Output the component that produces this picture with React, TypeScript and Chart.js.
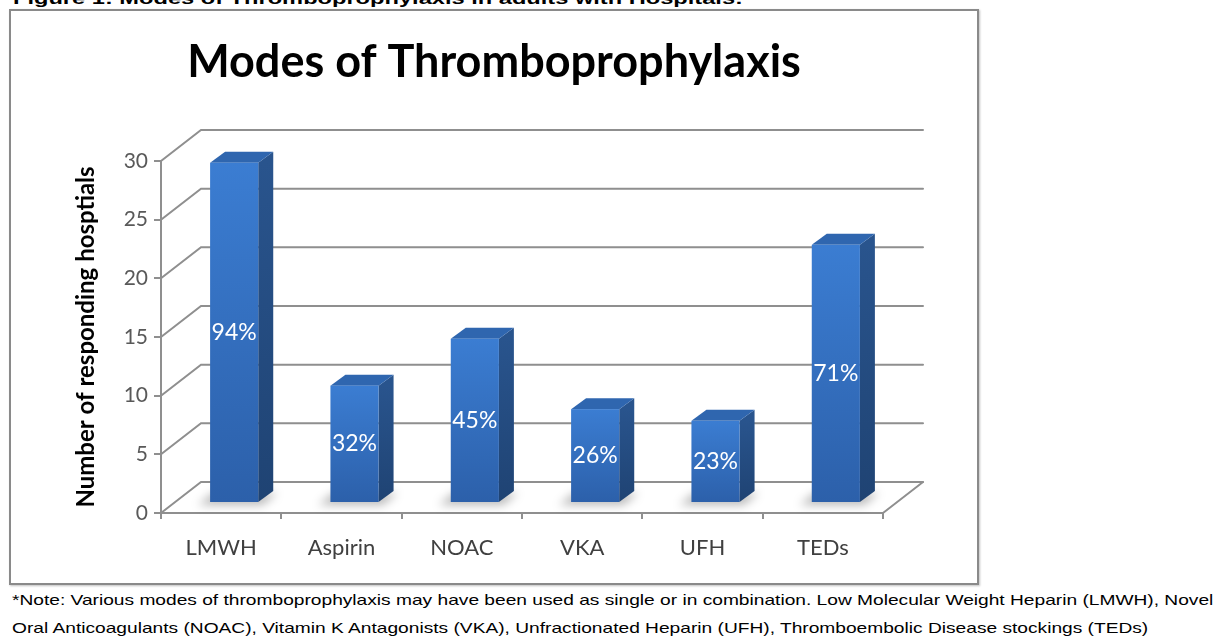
import React, { useEffect, useRef } from "react";
import { Chart, registerables } from "chart.js";

Chart.register(...registerables);

const categories = ["LMWH", "Aspirin", "NOAC", "VKA", "UFH", "TEDs"];
const hospitals = [29, 10, 14, 8, 7, 22];
const percentLabels = ["94%", "32%", "45%", "26%", "23%", "71%"];
const yMin = 0;
const yMax = 30;
const yStep = 5;

const chartTitle = "Modes of Thromboprophylaxis";
const yAxisTitle = "Number of responding hosptials";
const figureCaption = "Figure 1: Modes of Thromboprophylaxis in adults with Hospitals:";
const noteLine1 =
  "*Note: Various modes of thromboprophylaxis may have been used as single or in combination. Low Molecular Weight Heparin (LMWH), Novel";
const noteLine2 =
  "Oral Anticoagulants (NOAC), Vitamin K Antagonists (VKA), Unfractionated Heparin (UFH), Thromboembolic Disease stockings (TEDs)";

// 3D geometry (pixels)
const WALL_DX = 40;
const WALL_DY = -31;
const BAR_DX = 13;
const BAR_DY = -10;
const SIDE_DX = 15;
const SIDE_DY = -11;
const GRID = "#8f8f8f";
const FONT = "Lato, 'Open Sans', 'DejaVu Sans', sans-serif";

const threeD = {
  id: "threeD",
  beforeDatasetsDraw(chart: any) {
    const { ctx, chartArea } = chart;
    const y = chart.scales.y;
    const { left, right, bottom } = chartArea;
    ctx.save();
    ctx.strokeStyle = GRID;
    ctx.lineWidth = 2;
    ctx.lineCap = "round";
    for (let v = yMin; v <= yMax; v += yStep) {
      const py = y.getPixelForValue(v);
      ctx.beginPath();
      ctx.moveTo(left, py);
      ctx.lineTo(left + WALL_DX, py + WALL_DY);
      ctx.lineTo(right + WALL_DX, py + WALL_DY);
      ctx.stroke();
    }
    ctx.beginPath();
    ctx.moveTo(right, bottom);
    ctx.lineTo(right + WALL_DX, bottom + WALL_DY);
    ctx.stroke();
    ctx.restore();
  },
  afterDatasetsDraw(chart: any) {
    const { ctx } = chart;
    const meta = chart.getDatasetMeta(0);
    meta.data.forEach((el: any, i: number) => {
      const p = el.getProps(["x", "y", "base", "width"], true);
      const l = p.x - p.width / 2 + BAR_DX;
      const r = p.x + p.width / 2 + BAR_DX;
      const t = p.y + BAR_DY;
      const b = p.base + BAR_DY;
      ctx.save();
      // floor shadow
      ctx.filter = "blur(5px)";
      ctx.fillStyle = "rgba(0,0,0,0.28)";
      ctx.beginPath();
      ctx.moveTo(l - 12, b + 3);
      ctx.lineTo(r + 4, b + 3);
      ctx.lineTo(r + SIDE_DX + 4, b + SIDE_DY + 2);
      ctx.lineTo(l + SIDE_DX - 12, b + SIDE_DY + 2);
      ctx.closePath();
      ctx.fill();
      ctx.filter = "none";
      // side face
      const sg = ctx.createLinearGradient(0, t, 0, b);
      sg.addColorStop(0, "#29548d");
      sg.addColorStop(1, "#1f4373");
      ctx.fillStyle = sg;
      ctx.beginPath();
      ctx.moveTo(r, t);
      ctx.lineTo(r + SIDE_DX, t + SIDE_DY);
      ctx.lineTo(r + SIDE_DX, b + SIDE_DY);
      ctx.lineTo(r, b);
      ctx.closePath();
      ctx.fill();
      // top face
      ctx.fillStyle = "#2f66af";
      ctx.beginPath();
      ctx.moveTo(l, t);
      ctx.lineTo(l + SIDE_DX, t + SIDE_DY);
      ctx.lineTo(r + SIDE_DX, t + SIDE_DY);
      ctx.lineTo(r, t);
      ctx.closePath();
      ctx.fill();
      // front face
      const fg = ctx.createLinearGradient(0, t, 0, b);
      fg.addColorStop(0, "#3b7dd2");
      fg.addColorStop(1, "#2c60aa");
      ctx.fillStyle = fg;
      ctx.fillRect(l, t, r - l, b - t);
      // label
      ctx.fillStyle = "#ffffff";
      ctx.font = `23px ${FONT}`;
      ctx.textAlign = "center";
      ctx.textBaseline = "middle";
      ctx.fillText(percentLabels[i], (l + r) / 2, (t + b) / 2);
      ctx.restore();
    });
  },
};

export default function App() {
  const ref = useRef<HTMLCanvasElement | null>(null);
  useEffect(() => {
    if (!ref.current) return;
    const chart = new Chart(ref.current, {
      type: "bar",
      data: {
        labels: categories,
        datasets: [
          {
            data: hospitals,
            backgroundColor: "rgba(0,0,0,0)",
            borderWidth: 0,
            categoryPercentage: 1,
            barPercentage: 0.4,
          },
        ],
      },
      options: {
        responsive: false,
        animation: false,
        devicePixelRatio: 1,
        layout: { padding: 0 },
        plugins: {
          legend: { display: false },
          tooltip: { enabled: false },
          title: {
            display: true,
            text: chartTitle,
            color: "#000000",
            font: { family: FONT, size: 45, weight: "bold" },
            padding: { top: 24, bottom: 72 },
          },
        },
        scales: {
          x: {
            grid: {
              offset: true,
              drawOnChartArea: false,
              tickLength: 6,
              color: GRID,
              lineWidth: 2,
            },
            border: { color: GRID, width: 2 },
            ticks: {
              color: "#404040",
              font: { family: FONT, size: 22 },
              padding: 16,
              maxRotation: 0,
            },
            afterFit(scale: any) {
              scale.height = 70;
            },
          },
          y: {
            min: yMin,
            max: yMax,
            grid: {
              drawOnChartArea: false,
              tickLength: 7,
              color: GRID,
              lineWidth: 2,
            },
            border: { color: GRID, width: 2 },
            ticks: {
              stepSize: yStep,
              color: "#595959",
              font: { family: FONT, size: 21 },
              padding: 6,
            },
            title: {
              display: true,
              text: yAxisTitle,
              color: "#000000",
              font: { family: FONT, size: 24, weight: "bold" },
              padding: { top: 61, bottom: 0 },
            },
            afterFit(scale: any) {
              scale.width = 150;
            },
          },
          yRight: {
            position: "right",
            display: true,
            min: yMin,
            max: yMax,
            grid: { display: false },
            border: { display: false },
            ticks: { display: false },
            afterFit(scale: any) {
              scale.width = 94;
            },
          },
        },
      },
      plugins: [threeD],
    });
    return () => chart.destroy();
  }, []);

  const noteStyle: React.CSSProperties = {
    position: "absolute",
    left: 12,
    whiteSpace: "nowrap",
    fontFamily: "'Liberation Sans', Arial, sans-serif",
    fontSize: 15,
    color: "#000",
    transform: "scaleX(1.277)",
    transformOrigin: "left center",
    lineHeight: "18px",
  };

  return (
    <div
      style={{
        position: "absolute",
        left: 0,
        top: 0,
        width: 1215,
        height: 639,
        overflow: "hidden",
        background: "#ffffff",
      }}
    >
      <div
        style={{
          position: "absolute",
          left: 13,
          top: -11,
          whiteSpace: "nowrap",
          fontFamily: "'Liberation Sans', Arial, sans-serif",
          fontWeight: "bold",
          fontSize: 17,
          lineHeight: "20px",
          transform: "scaleX(1.39)",
          transformOrigin: "left center",
        }}
      >
        {figureCaption}
      </div>
      <div
        style={{
          position: "absolute",
          left: 9,
          top: 9,
          width: 966,
          height: 572,
          border: "2px solid #8a8a8a",
          boxShadow: "1px 1px 2px rgba(0,0,0,0.25)",
          background: "#ffffff",
        }}
      >
        <canvas ref={ref} width={966} height={572} style={{ display: "block" }} />
      </div>
      <div style={{ ...noteStyle, top: 591 }}>{noteLine1}</div>
      <div style={{ ...noteStyle, top: 619 }}>{noteLine2}</div>
    </div>
  );
}
